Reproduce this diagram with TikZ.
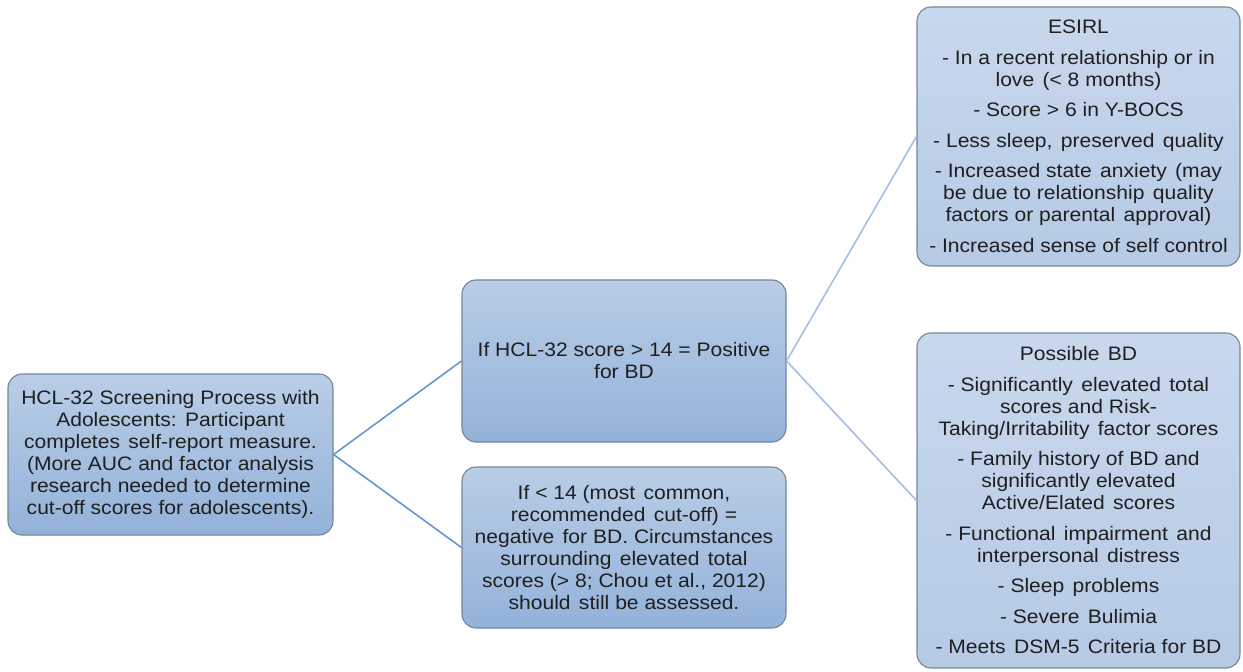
\documentclass[tikz,border=0pt]{standalone}
\usepackage{fontspec}
\setmainfont{Liberation Sans}[FakeStretch=1.08]
\newcommand{\xs}{\hspace{2.5pt}\ }
\definecolor{boxtop}{HTML}{B9CDE6}
\definecolor{boxbot}{HTML}{93B2DA}
\definecolor{rtop}{HTML}{C8D8ED}
\definecolor{rbot}{HTML}{B6CAE5}
\definecolor{boxline}{HTML}{75869A}
\definecolor{linkdark}{HTML}{6396D2}
\definecolor{linklight}{HTML}{A3BFE3}
\tikzset{
  box/.style={draw=boxline, line width=1.1pt, rounded corners=14pt,
    top color=boxtop, bottom color=boxbot, align=center, inner sep=0pt,
    font=\fontsize{19.5}{22}\selectfont, text=black!88},
  rbox/.style={box, top color=rtop, bottom color=rbot},
  linkA/.style={draw=linkdark, line width=1.6pt},
  linkB/.style={draw=linklight, line width=1.6pt}
}
\begin{document}
\begin{tikzpicture}[x=1pt,y=-1pt]
\useasboundingbox (0,0) rectangle (1243,672);
\node[box, minimum width=325pt, minimum height=161pt] (a) at (170.5,454.5)
  {HCL-32 Screening Process with\\Adolescents:\xs Participant\\completes\xs self-report measure.\\(More AUC and factor analysis\\research needed to determine\\cut-off scores for adolescents).};
\node[box, minimum width=324pt, minimum height=162pt] (b) at (624,361)
  {If HCL-32 score > 14 = Positive\\for BD};
\node[box, minimum width=324pt, minimum height=161pt] (c) at (624,547.5)
  {If < 14 (most\xs common,\\recommended\xs cut-off) =\\negative\xs for BD. Circumstances\\surrounding\xs elevated\xs total\\scores (> 8; Chou et al., 2012)\\should\xs still be assessed.};
\node[rbox, minimum width=323pt, minimum height=259pt] (d) at (1078.5,136.5)
  {ESIRL\\[8.5pt]- In a recent relationship or in\\love\xs (< 8 months)\\[8.5pt]- Score > 6 in Y-BOCS\\[8.5pt]- Less sleep,\xs preserved\xs quality\\[8.5pt]- Increased state\xs anxiety\xs (may\\be due to relationship\xs quality\\factors or parental\xs approval)\\[8.5pt]- Increased sense of self control};
\node[rbox, minimum width=323pt, minimum height=335pt] (e) at (1078.5,500.5)
  {Possible\xs BD\\[8.5pt]- Significantly\xs elevated\xs total\\scores and Risk-\\Taking/Irritability\xs factor scores\\[8.5pt]- Family history of BD and\\significantly elevated\\Active/Elated\xs scores\\[8.5pt]- Functional\xs impairment\xs and\\interpersonal\xs distress\\[8.5pt]- Sleep\xs problems\\[8.5pt]- Severe\xs Bulimia\\[8.5pt]- Meets\xs DSM-5\xs Criteria for BD};
\draw[linkA] (a.east) -- (b.west);
\draw[linkA] (a.east) -- (c.west);
\draw[linkB] (b.east) -- (d.west);
\draw[linkB] (b.east) -- (e.west);
\end{tikzpicture}
\end{document}
